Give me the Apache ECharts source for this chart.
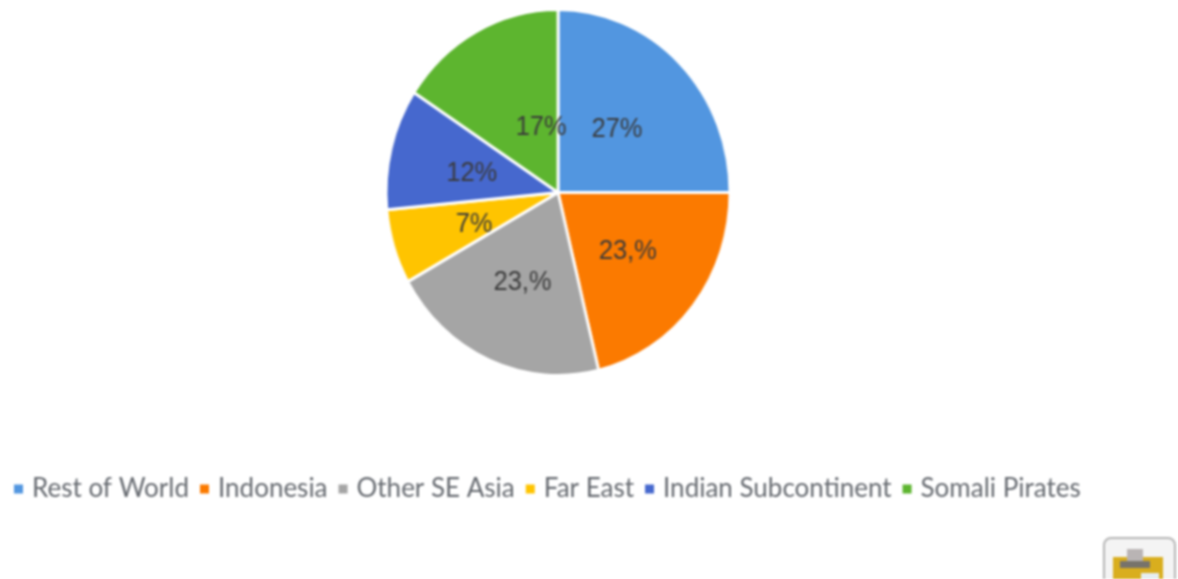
<!DOCTYPE html>
<html><head><meta charset="utf-8">
<style>html,body{margin:0;padding:0;background:#fff;overflow:hidden}
#wrap{position:relative;width:1178px;height:579px;filter:blur(0.9px)}
#l,#p{position:absolute;left:0;top:0;width:1178px;height:579px}
#p{transform-origin:558px 192px;transform:scaleX(0.94)}</style>
<script src="https://cdn.jsdelivr.net/npm/echarts@6/dist/echarts.min.js"></script>
</head><body><div id="wrap"><div id="l"></div><div id="p"></div></div>
<script>
const categories=["Rest of World","Indonesia","Other SE Asia","Far East","Indian Subcontinent","Somali Pirates"];
const values=[25,21.2,20.7,6.6,10.7,15.8];
const labels=["27%","23,%","23,%","7%","12%","17%"];
const colors=["#5296E0","#FB7A00","#A5A5A5","#FFC400","#4668CE","#5DB52F"];
const labelOffsets=[[-4,4],[0,1],[0,3],[1,4],[0,4],[27,18]];
const back=echarts.init(document.getElementById('l'));
back.setOption({
  animation:false,
  legend:{left:9,top:471,itemWidth:9,itemHeight:9,itemGap:11,icon:'rect',
    textStyle:{fontFamily:'Lato',fontSize:26,color:'#666a70',padding:[0,0,0,4]},
    data:categories},
  series:[{type:'pie',radius:0,silent:true,label:{show:false},
    data:categories.map((n,i)=>({name:n,value:values[i],itemStyle:{color:colors[i]}}))}],
  graphic:[
    {type:'rect',shape:{x:1104,y:538,width:71,height:60,r:7},style:{fill:'#f4f4f4',stroke:'#b5b5b5',lineWidth:2}},
    {type:'rect',shape:{x:1113,y:557,width:50,height:30},style:{fill:'#D9AE1E'}},
    {type:'rect',shape:{x:1127,y:549,width:16,height:13},style:{fill:'#b9b4b4'}},
    {type:'rect',shape:{x:1120,y:561,width:30,height:7},style:{fill:'#77736b'}},
    {type:'rect',shape:{x:1141,y:573,width:18,height:10},style:{fill:'#e6eef2'}}
  ]
});
const pie=echarts.init(document.getElementById('p'));
pie.setOption({
  animation:false,
  series:[{type:'pie',center:[558,192.5],radius:[0,183],startAngle:90,clockwise:true,
    itemStyle:{borderColor:'#fff',borderWidth:3},
    label:{position:'inside',fontFamily:'Liberation Sans',fontSize:27,color:'#3a3a3a'},
    labelLine:{show:false},
    data:categories.map((n,i)=>({name:n,value:values[i],itemStyle:{color:colors[i]},
      label:{formatter:labels[i],offset:labelOffsets[i]}}))}]
});
</script></body></html>
